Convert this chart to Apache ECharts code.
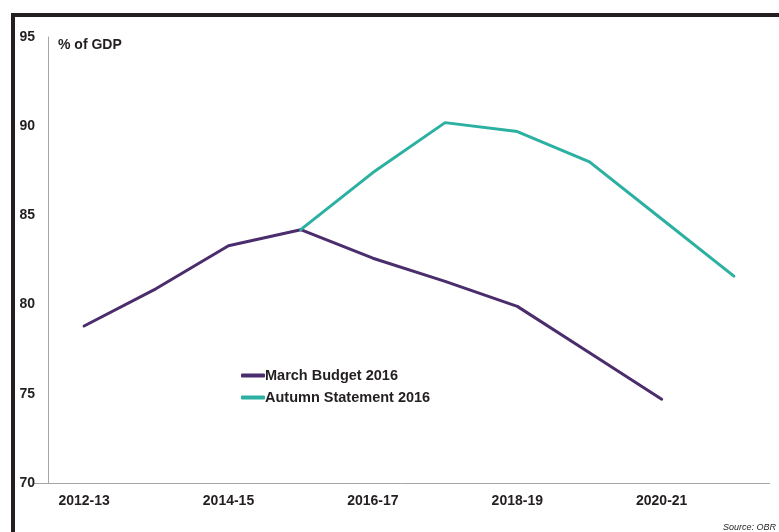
<!DOCTYPE html>
<html>
<head>
<meta charset="utf-8">
<script src="https://cdn.jsdelivr.net/npm/echarts@6/dist/echarts.min.js"></script>
<style>
html,body{margin:0;padding:0;background:#fff;}
#chart{width:779px;height:532px;}
</style>
</head>
<body>
<div id="chart"></div>
<script>
const categories = ['2012-13','2013-14','2014-15','2015-16','2016-17','2017-18','2018-19','2019-20','2020-21','2021-22'];
const marchBudget2016 = [78.8, 80.9, 83.3, 84.2, 82.6, 81.3, 79.9, 77.3, 74.7, null];
const autumnStatement2016 = [null, null, null, 84.2, 87.4, 90.2, 89.7, 88.0, 84.8, 81.6];
const yTicks = { min: 70, max: 95, interval: 5 };

const FONT = '"Liberation Sans", Arial, sans-serif';
const TXT = '#231f20';
const chart = echarts.init(document.getElementById('chart'), null, {renderer: 'canvas'});
chart.setOption({
  animation: false,
  backgroundColor: '#ffffff',
  grid: { left: 48, right: 9, top: 37, bottom: 49, containLabel: false },
  legend: {
    orient: 'vertical',
    left: 236,
    top: 363,
    itemGap: 7,
    itemWidth: 24,
    itemHeight: 4,
    icon: 'roundRect',
    textStyle: { fontFamily: FONT, fontWeight: 'bold', fontSize: 14.5, color: TXT, padding: [0,0,0,-5] },
    data: ['March Budget 2016', 'Autumn Statement 2016']
  },
  xAxis: {
    type: 'category',
    data: categories,
    boundaryGap: true,
    axisLine: { show: false },
    axisTick: { show: false },
    axisLabel: { interval: 1, margin: 11, fontFamily: FONT, fontWeight: 'bold', fontSize: 14, color: TXT }
  },
  yAxis: {
    type: 'value',
    min: yTicks.min, max: yTicks.max, interval: yTicks.interval,
    axisLine: { show: true, lineStyle: { color: '#a6a6a6', width: 1 } },
    axisTick: { show: false },
    splitLine: { show: false },
    axisLabel: { margin: 13, fontFamily: FONT, fontWeight: 'bold', fontSize: 14, color: TXT }
  },
  series: [
    {
      name: 'March Budget 2016', type: 'line', data: marchBudget2016,
      showSymbol: false, symbol: 'none',
      lineStyle: { color: '#4b2d6d', width: 3, join: 'round', cap: 'round' },
      itemStyle: { color: '#4b2d6d' }
    },
    {
      name: 'Autumn Statement 2016', type: 'line', data: autumnStatement2016,
      showSymbol: false, symbol: 'none',
      lineStyle: { color: '#2bb0a2', width: 3, join: 'round', cap: 'round' },
      itemStyle: { color: '#2bb0a2' }
    }
  ],
  graphic: [
    { type: 'rect', shape: { x: 11, y: 13, width: 4, height: 519 }, style: { fill: '#231f20' }, silent: true },
    { type: 'rect', shape: { x: 11, y: 13, width: 768, height: 4 }, style: { fill: '#231f20' }, silent: true },
    { type: 'line', shape: { x1: 33, y1: 483.5, x2: 770, y2: 483.5 }, style: { stroke: '#a6a6a6', lineWidth: 1 }, silent: true },
    { type: 'text', left: 58, top: 38, style: { text: '% of GDP', fontFamily: FONT, fontWeight: 'bold', fontSize: 14, fill: TXT } },
    { type: 'text', right: 3, top: 523, style: { text: 'Source: OBR', fontFamily: FONT, fontStyle: 'italic', fontSize: 9, fill: TXT } }
  ]
});
</script>
</body>
</html>
